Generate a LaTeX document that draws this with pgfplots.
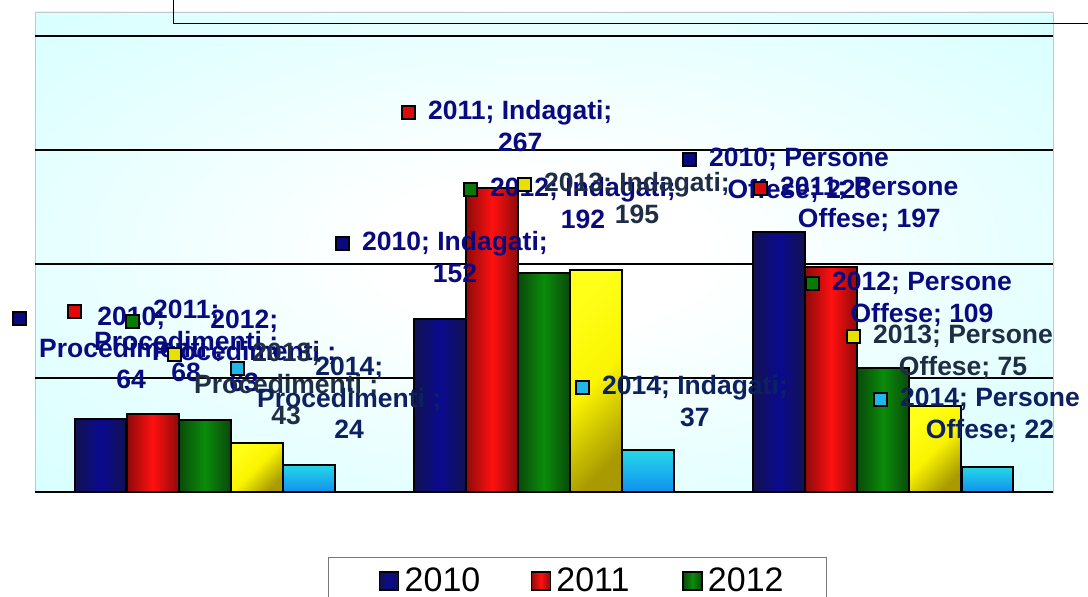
\documentclass[border=0pt]{standalone}
\usepackage{pgfplots}
\pgfplotsset{compat=1.18}
\usepackage{fontspec}
\setmainfont{Liberation Sans}
\definecolor{cyanbg}{HTML}{D2FFFF}
\definecolor{navyC}{HTML}{0A0A90}
\definecolor{navyE}{HTML}{121250}
\definecolor{redC}{HTML}{FF1010}
\definecolor{redE}{HTML}{8E0A0A}
\definecolor{greenC}{HTML}{0A8C0A}
\definecolor{greenE}{HTML}{0A4A0A}
\definecolor{yelT}{HTML}{FFFF18}
\definecolor{yelM}{HTML}{FAF400}
\definecolor{yelB}{HTML}{A89A00}
\definecolor{cyT}{HTML}{26D8E6}
\definecolor{cyB}{HTML}{1090F0}
\definecolor{k2010}{HTML}{0A0A80}
\definecolor{k2011}{HTML}{E00808}
\definecolor{k2012}{HTML}{087A08}
\definecolor{k2013}{HTML}{E8E000}
\definecolor{k2014}{HTML}{20B8E8}
\definecolor{labnavy}{HTML}{0A0A80}
\definecolor{labslate}{HTML}{1F2D45}
\definecolor{labnavyb}{HTML}{0D2060}
\pgfdeclareradialshading{bgshade}{\pgfpoint{0bp}{0bp}}{color(0bp)=(white); color(8bp)=(white); color(26bp)=(cyanbg!60!white); color(40bp)=(cyanbg); color(100bp)=(cyanbg)}
\pgfplotsset{
  mylegend/.style={legend image code/.code={\path (-50pt,0pt) (24pt,0pt); \draw[##1,line width=1.5pt] (0pt,-9.5pt) rectangle (19pt,8.5pt);}},
  barbase/.style={ybar, bar width=0.153, bar shift=0pt, draw=black, line width=2pt},
  s2010/.style={barbase, left color=navyE, right color=navyE, middle color=navyC, mylegend},
  s2011/.style={barbase, left color=redE, right color=redE, middle color=redC, mylegend},
  s2012/.style={barbase, left color=greenE, right color=greenE, middle color=greenC, mylegend},
  s2013/.style={barbase, top color=yelT, bottom color=yelB, middle color=yelM, shading angle=45, mylegend},
  s2014/.style={barbase, top color=cyT, bottom color=cyB, mylegend},
}
\setlength{\fboxrule}{2pt}
\setlength{\fboxsep}{0pt}
\newcommand{\lab}[2]{\raisebox{2pt}{\fcolorbox{black}{#1}{\rule{0pt}{10.5pt}\rule{10.5pt}{0pt}}}\hspace{12.5pt}\begin{tabular}[t]{@{}c@{}}#2\end{tabular}}
\newcommand{\labfont}{\bfseries\fontsize{26.5}{31.5}\selectfont}
\begin{document}
\begin{tikzpicture}
\useasboundingbox (0pt,0pt) rectangle (1088pt,597pt);
\begin{axis}[
  at={(35pt,105pt)}, anchor=south west, scale only axis,
  width=1018pt, height=480pt,
  xmin=-0.5, xmax=2.5, ymin=0, ymax=421.05,
  xtick=\empty, ytick={0,100,200,300}, yticklabels={},
  extra y ticks={400}, extra y tick labels={},
  extra y tick style={grid style={black, line width=2.6pt}},
  ymajorgrids, grid style={black, line width=1.6pt},
  major tick length=0pt,
  axis line style={draw=none},
  axis background/.style={shading=bgshade, draw=gray!45, line width=0.8pt},
  clip=false,
  legend columns=3,
  legend cell align=left,
  legend style={at={(rel axis cs:0.2878,-0.1354)}, anchor=north west,
    draw=black!53, line width=1.5pt, fill=white,
    inner xsep=0pt, inner ysep=10pt,
    font=\fontsize{34}{41}\selectfont,
    nodes={inner sep=0pt}, column sep=0pt, row sep=8pt},
]
% 2010
\addplot[s2010] coordinates {(-0.307,64)};
\addlegendentry{2010}
\addplot[s2010, forget plot] coordinates {(0.693,152)};
\addplot[s2010, forget plot] coordinates {(1.693,228)};
% 2011
\addplot[s2011] coordinates {(-0.153,68)};
\addlegendentry{2011}
\addplot[s2011, forget plot] coordinates {(0.847,267)};
\addplot[s2011, forget plot] coordinates {(1.847,197)};
% 2012
\addplot[s2012] coordinates {(0,63)};
\addlegendentry{2012\rule{43pt}{0pt}}
\addplot[s2012, forget plot] coordinates {(1,192)};
\addplot[s2012, forget plot] coordinates {(2,109)};
% 2013
\addplot[s2013] coordinates {(0.153,43)};
\addlegendentry{2013}
\addplot[s2013, forget plot] coordinates {(1.153,195)};
\addplot[s2013, forget plot] coordinates {(2.153,75)};
% 2014
\addplot[s2014] coordinates {(0.307,24)};
\addlegendentry{2014}
\addplot[s2014, forget plot] coordinates {(1.307,37)};
\addplot[s2014, forget plot] coordinates {(2.307,22)};
\end{axis}
\draw[line width=0.9pt] (173pt,600pt) -- (173pt,574pt) -- (1100pt,574pt);
\begin{scope}[every node/.style={anchor=base west, inner sep=0pt, font=\labfont}]
\node[text=labnavy] at (12pt,271pt) {\lab{k2010}{2010;\\Procedimenti ;\\64}};
\node[text=labnavy] at (67pt,278pt) {\lab{k2011}{2011;\\Procedimenti ;\\68}};
\node[text=labnavy] at (125pt,268pt) {\lab{k2012}{2012;\\Procedimenti ;\\63}};
\node[text=labslate] at (167pt,235pt) {\lab{k2013}{2013;\\Procedimenti ;\\43}};
\node[text=labnavyb] at (230pt,221pt) {\lab{k2014}{2014;\\Procedimenti ;\\24}};
\node[text=labnavy] at (335pt,346pt) {\lab{k2010}{2010; Indagati;\\152}};
\node[text=labnavy] at (401pt,477pt) {\lab{k2011}{2011; Indagati;\\267}};
\node[text=labnavy] at (463pt,400pt) {\lab{k2012}{2012; Indagati;\\192}};
\node[text=labslate] at (517pt,405pt) {\lab{k2013}{2013; Indagati;\\195}};
\node[text=labnavyb] at (575pt,202pt) {\lab{k2014}{2014; Indagati;\\37}};
\node[text=labnavy] at (682pt,430pt) {\lab{k2010}{2010; Persone\\Offese; 228}};
\node[text=labnavy] at (753pt,401pt) {\lab{k2011}{2011; Persone\\Offese; 197}};
\node[text=labnavy] at (805pt,306pt) {\lab{k2012}{2012; Persone\\Offese; 109}};
\node[text=labslate] at (846pt,253pt) {\lab{k2013}{2013; Persone\\Offese; 75}};
\node[text=labnavyb] at (873pt,190pt) {\lab{k2014}{2014; Persone\\Offese; 22}};
\end{scope}
\end{tikzpicture}
\end{document}
